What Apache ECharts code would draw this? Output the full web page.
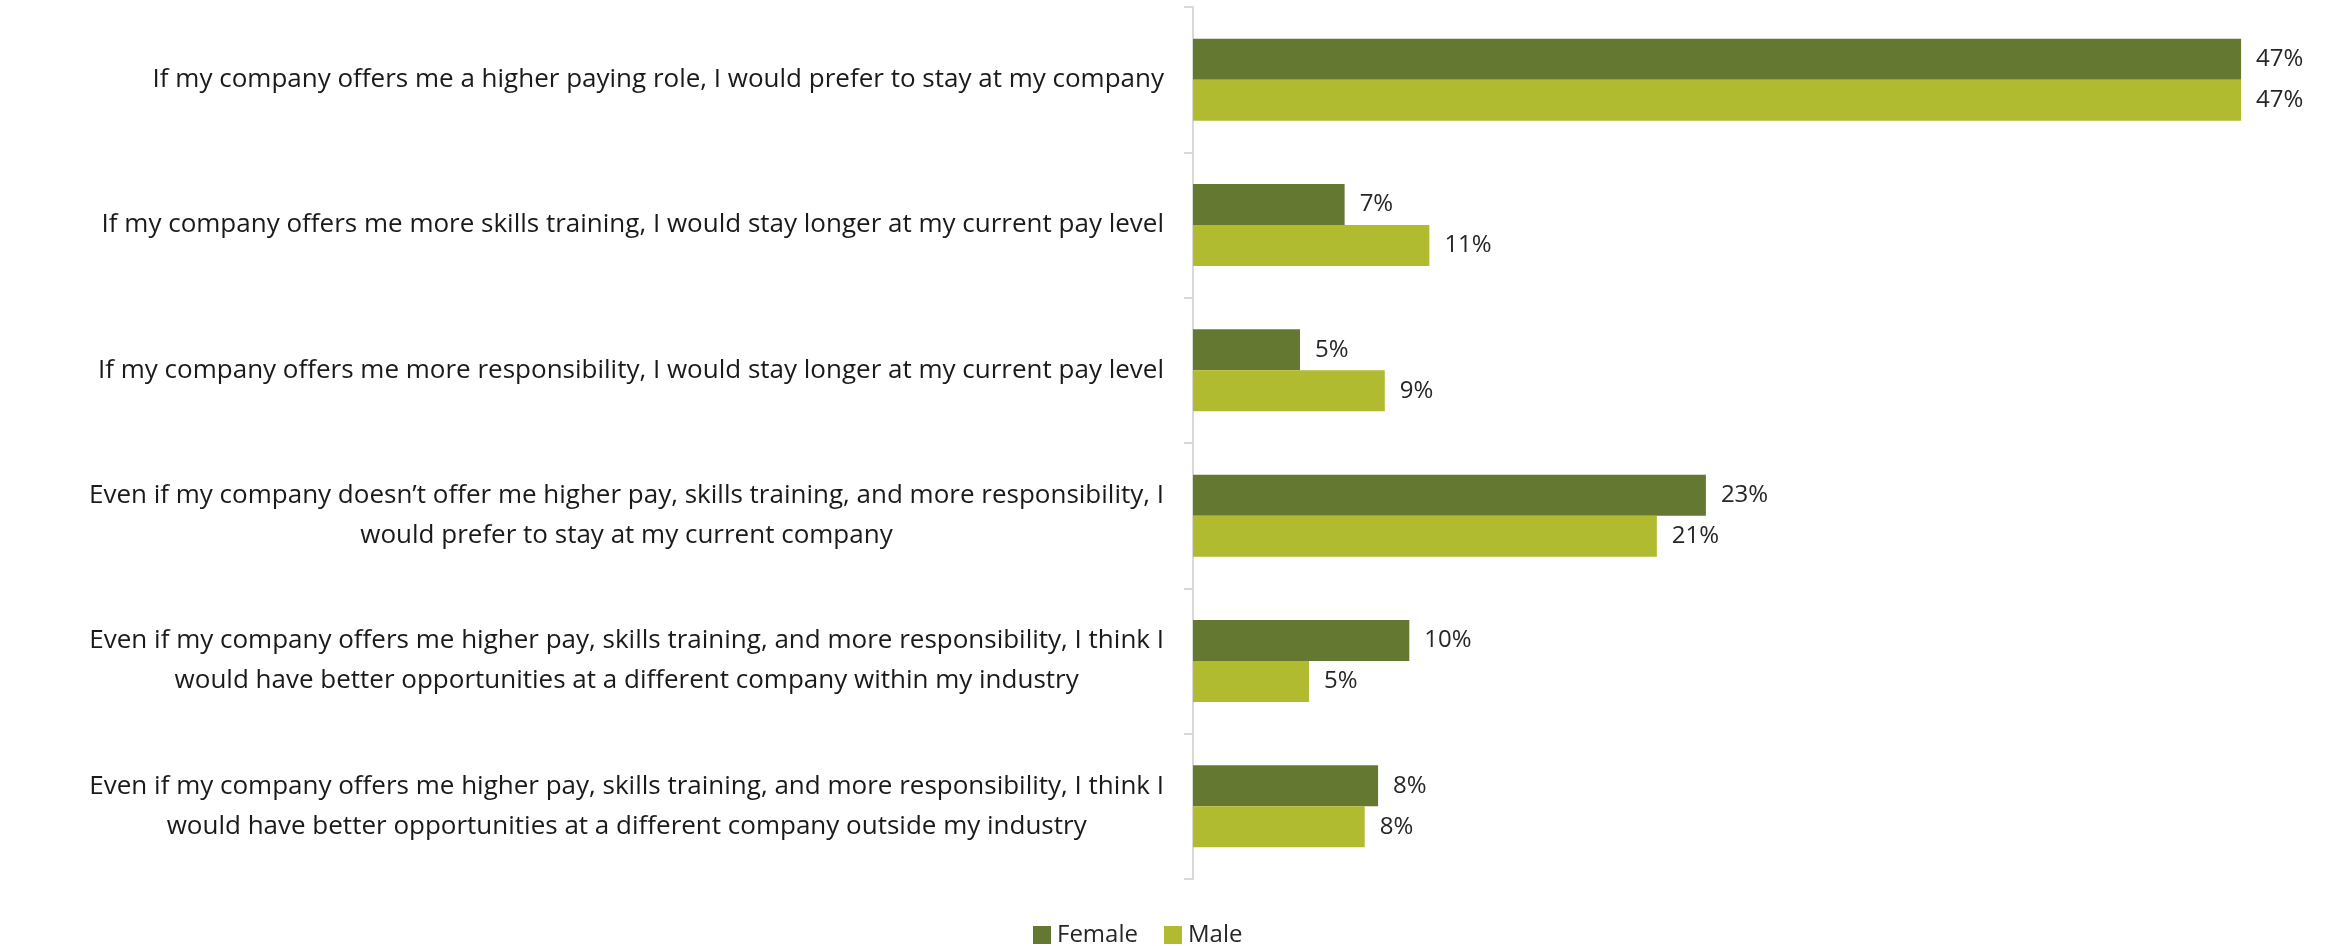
<!DOCTYPE html>
<html>
<head>
<meta charset="utf-8">
<script src="https://cdn.jsdelivr.net/npm/echarts@6/dist/echarts.min.js"></script>
<style>
html,body{margin:0;padding:0;background:#fff;}
#chart{width:2333px;height:946px;}
</style>
</head>
<body>
<div id="chart"></div>
<script>
const categories = [
  "If my company offers me a higher paying role, I would prefer to stay at my company",
  "If my company offers me more skills training, I would stay longer at my current pay level",
  "If my company offers me more responsibility, I would stay longer at my current pay level",
  "Even if my company doesn’t offer me higher pay, skills training, and more responsibility, I\nwould prefer to stay at my current company",
  "Even if my company offers me higher pay, skills training, and more responsibility, I think I\nwould have better opportunities at a different company within my industry",
  "Even if my company offers me higher pay, skills training, and more responsibility, I think I\nwould have better opportunities at a different company outside my industry"
];
const seriesNames = ["Female", "Male"];
const femaleValues = [47, 6.8, 4.8, 23, 9.7, 8.3];
const maleValues = [47, 10.6, 8.6, 20.8, 5.2, 7.7];
const axisMax = 50;

const FONT = "'Open Sans', Lato, sans-serif";
const chart = echarts.init(document.getElementById('chart'), null, {renderer: 'canvas'});
const labelStyle = {
  show: true, position: 'right', distance: 15,
  fontFamily: FONT, fontSize: 24, color: '#262626',
  formatter: p => Math.round(p.value) + '%'
};
chart.setOption({
  animation: false,
  backgroundColor: '#ffffff',
  grid: {left: 1193, top: 7, width: 1115, height: 872, containLabel: false},
  legend: {
    data: seriesNames,
    left: 1028, top: 918,
    itemWidth: 18, itemHeight: 18, itemGap: 26,
    icon: 'rect',
    textStyle: {fontFamily: FONT, fontSize: 24, color: '#262626', padding: [0, 0, 0, 1]}
  },
  xAxis: {
    type: 'value', min: 0, max: axisMax,
    axisLine: {show: false}, axisTick: {show: false},
    axisLabel: {show: false}, splitLine: {show: false}
  },
  yAxis: {
    type: 'category', data: categories, inverse: true,
    axisLine: {show: true, lineStyle: {color: '#d9d9d9', width: 2}},
    axisTick: {show: true, inside: false, length: 9, lineStyle: {color: '#d9d9d9', width: 2}},
    axisLabel: {
      margin: 29, align: 'right',
      fontFamily: FONT, fontSize: 26, color: '#1a1a1a', lineHeight: 40,
      formatter: v => v.split('\n').map(l => '{c|' + l + '}').join('\n'),
      rich: {c: {align: 'center', fontFamily: FONT, fontSize: 26, color: '#1a1a1a', lineHeight: 40}}
    }
  },
  series: [
    {name: seriesNames[0], type: 'bar', data: femaleValues, barWidth: 41, barGap: '0%',
     itemStyle: {color: '#657831'}, label: labelStyle},
    {name: seriesNames[1], type: 'bar', data: maleValues, barWidth: 41, barGap: '0%',
     itemStyle: {color: '#b0bb30'}, label: labelStyle}
  ]
});
</script>
</body>
</html>
